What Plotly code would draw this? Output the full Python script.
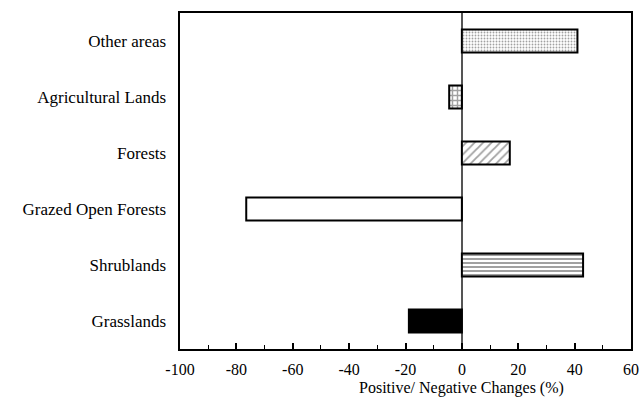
import plotly.graph_objects as go

categories = ["Grasslands", "Shrublands", "Grazed Open Forests", "Forests", "Agricultural Lands", "Other areas"]
changes = [-18.8, 43, -76.5, 17, -4.5, 41]
pattern_shapes = ["", "-", "", "/", "+", "."]
fill_colors = ["black", "white", "white", "white", "white", "white"]
x_ticks = [-100, -80, -60, -40, -20, 0, 20, 40, 60]

fig = go.Figure()
fig.add_trace(go.Bar(
    y=categories, x=changes, orientation="h", width=0.41,
    marker=dict(
        color=fill_colors,
        line=dict(color="black", width=2),
        pattern=dict(shape=pattern_shapes, fgcolor="black", bgcolor="white",
                     size=[4, 4, 4, 6, 5, 3], solidity=[0.3, 0.5, 0.3, 0.3, 0.5, 0.3],
                     fillmode="overlay"),
    ),
    showlegend=False,
))

fam = "'Liberation Serif', 'DejaVu Serif'"
label_font = dict(family=fam, size=17, color="black")
tick_font = dict(family=fam, size=16, color="black")
fig.update_layout(
    width=644, height=399,
    margin=dict(l=180, r=13, t=13, b=50, autoexpand=False),
    plot_bgcolor="white", paper_bgcolor="white",
    font=label_font,
)
fig.update_xaxes(
    range=[-100, 60], tickvals=x_ticks, ticktext=[str(v) for v in x_ticks],
    showline=True, linecolor="black", linewidth=2, mirror=True,
    ticks="inside", ticklen=6, tickwidth=1.5, tickcolor="black",
    minor=dict(ticks="inside", dtick=10, ticklen=4, tickcolor="black", tickwidth=1),
    showgrid=False, zeroline=True, zerolinecolor="#555555", zerolinewidth=1.5,
    tickfont=tick_font, automargin=False, ticklabelstandoff=5,
)
fig.update_yaxes(
    range=[-0.5, 5.5], showline=True, linecolor="black", linewidth=2, mirror=True,
    ticks="", showgrid=False, tickfont=label_font, ticksuffix="  ", automargin=False,
)
fig.add_annotation(
    x=0, xref="x", y=-0.115, yref="paper", text="Positive/ Negative Changes (%)",
    showarrow=False, xanchor="center", yanchor="middle", font=tick_font,
)
fig.write_html("out.html", config={"displayModeBar": False},
               post_script="document.body.style.margin='0';")
